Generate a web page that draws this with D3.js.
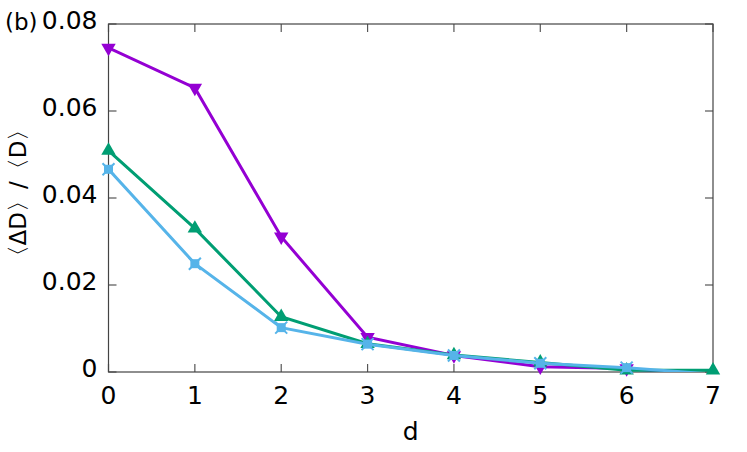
<!DOCTYPE html>
<html>
<head>
<meta charset="utf-8">
<script src="https://cdn.jsdelivr.net/npm/d3@7"></script>
<style>
  html, body { margin: 0; padding: 0; background: #fff; }
  svg { display: block; font-family: "DejaVu Sans", Verdana, sans-serif; }
</style>
</head>
<body>
<svg id="chart" width="747" height="452"></svg>
<script>
// ---- data ----
const dValues = [0, 1, 2, 3, 4, 5, 6, 7];
const seriesPurple = [0.0745, 0.0653, 0.0311, 0.0080, 0.0038, 0.0012, 0.0008, -0.0009];
const seriesGreen  = [0.0509, 0.0330, 0.0127, 0.0065, 0.0039, 0.0022, 0.0004, 0.0004];
const seriesBlue   = [0.0466, 0.0249, 0.0102, 0.0064, 0.0038, 0.0020, 0.0010, -0.0005];
const xTicks = [0, 1, 2, 3, 4, 5, 6, 7];
const yTicks = [0, 0.02, 0.04, 0.06, 0.08];
const yTickLabels = ["0", "0.02", "0.04", "0.06", "0.08"];
const xLabel = "d";
const yLabel = "\u3008\u0394D\u3009/\u3008D\u3009";
const panelLabel = "(b)";

// ---- layout ----
const svg = d3.select("#chart");
const L = 108.5, R = 713, T = 24, B = 372;
const x = d3.scaleLinear().domain([0, 7]).range([L, R]);
const y = d3.scaleLinear().domain([0, 0.08]).range([B, T]);
const fontSize = 25;

svg.append("defs").append("clipPath").attr("id", "clip")
  .append("rect").attr("x", L).attr("y", T).attr("width", R - L).attr("height", B - T);

// ticks (inward, mirrored)
const tickLen = 8;
const tg = svg.append("g").attr("stroke", "#555").attr("stroke-width", 1.2);
xTicks.forEach(v => {
  tg.append("line").attr("x1", x(v)).attr("x2", x(v)).attr("y1", B).attr("y2", B - tickLen);
  tg.append("line").attr("x1", x(v)).attr("x2", x(v)).attr("y1", T).attr("y2", T + tickLen);
});
yTicks.forEach(v => {
  tg.append("line").attr("x1", L).attr("x2", L + tickLen).attr("y1", y(v)).attr("y2", y(v));
  tg.append("line").attr("x1", R).attr("x2", R - tickLen).attr("y1", y(v)).attr("y2", y(v));
});

// border
svg.append("rect").attr("x", L).attr("y", T).attr("width", R - L).attr("height", B - T)
  .attr("fill", "none").attr("stroke", "#444").attr("stroke-width", 1.2);

// tick labels
const xa = svg.append("g").attr("font-size", fontSize).attr("fill", "#000");
xTicks.forEach(v => {
  xa.append("text").attr("x", x(v)).attr("y", B + 32).attr("text-anchor", "middle").text(v);
});
yTicks.forEach((v, i) => {
  xa.append("text").attr("x", L - 11).attr("y", y(v) + 5).attr("text-anchor", "end").text(yTickLabels[i]);
});

// axis labels
svg.append("text").attr("x", (L + R) / 2).attr("y", 440).attr("text-anchor", "middle")
  .attr("font-size", fontSize).text(xLabel);
svg.append("text").attr("transform", `translate(26,${(T + B) / 2 - 5}) rotate(-90)`)
  .attr("text-anchor", "middle").attr("font-size", 23).text(yLabel);
svg.append("text").attr("x", 5).attr("y", 30).attr("font-size", 23).text(panelLabel);

// series
const series = [
  { vals: seriesPurple, color: "#9400d3", marker: "down" },
  { vals: seriesGreen,  color: "#009e73", marker: "up" },
  { vals: seriesBlue,   color: "#56b4e9", marker: "star" }
];
const line = d3.line().x((d, i) => x(dValues[i])).y(d => y(d));
series.forEach(s => {
  svg.append("path").attr("d", line(s.vals)).attr("fill", "none")
    .attr("stroke", s.color).attr("stroke-width", 3).attr("clip-path", "url(#clip)");
  const g = svg.append("g").attr("fill", s.color);
  s.vals.forEach((v, i) => {
    if (v < 0 || v > 0.08) return;
    const cx = x(dValues[i]), cy = y(v);
    if (s.marker === "down") {
      g.append("path").attr("d", d3.symbol().type(d3.symbolTriangle).size(90)())
        .attr("transform", `translate(${cx},${cy}) rotate(180)`);
    } else if (s.marker === "up") {
      g.append("path").attr("d", d3.symbol().type(d3.symbolTriangle).size(90)())
        .attr("transform", `translate(${cx},${cy})`);
    } else {
      g.append("rect").attr("x", cx - 4.5).attr("y", cy - 4.5).attr("width", 9).attr("height", 9);
      g.append("path").attr("d", `M${cx-6},${cy-6}L${cx+6},${cy+6}M${cx-6},${cy+6}L${cx+6},${cy-6}`)
        .attr("stroke", s.color).attr("stroke-width", 2);
    }
  });
});
</script>
</body>
</html>
